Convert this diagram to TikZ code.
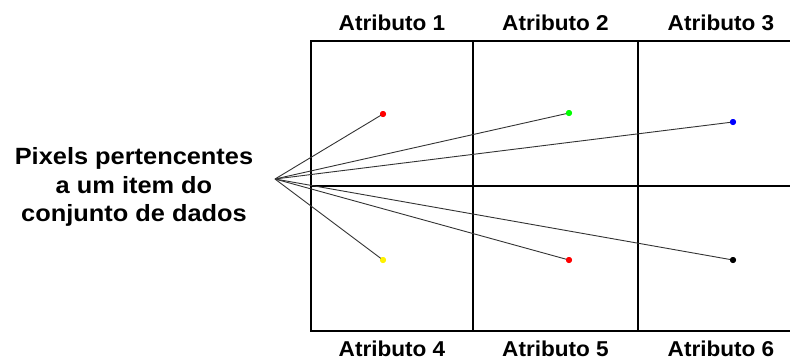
\documentclass[tikz,border=0pt]{standalone}
\usepackage{fontspec}
\usepackage{graphicx}
\setmainfont{Liberation Sans}
\begin{document}
\begin{tikzpicture}[x=1pt,y=-1pt,
  grid/.style={line width=2.6pt},
  fan/.style={line width=0.9pt, draw=black!80},
  dot/.style={circle, inner sep=0pt, minimum size=6pt, fill=#1},
  lbl/.style={font=\fontsize{21.5}{25}\selectfont\bfseries, inner sep=0pt, anchor=base},
  big/.style={font=\fontsize{23.5}{28.5}\selectfont\bfseries, inner sep=0pt, align=center}]
\useasboundingbox (0,0) rectangle (790,360);
% grid
\draw[grid] (800,41) -- (311,41) -- (311,331) -- (800,331);
\draw[grid] (311,186) -- (800,186);
\draw[grid] (473,41) -- (473,331);
\draw[grid] (638,41) -- (638,331);
% labels
\node[lbl] (a1) at (392,30) {\scalebox{1.05}[1]{Atributo 1}};
\node[lbl] (a2) at (555.5,30) {\scalebox{1.05}[1]{Atributo 2}};
\node[lbl] (a3) at (721,30) {\scalebox{1.05}[1]{Atributo 3}};
\node[lbl] (a4) at (392,356) {\scalebox{1.05}[1]{Atributo 4}};
\node[lbl] (a5) at (555.5,356) {\scalebox{1.05}[1]{Atributo 5}};
\node[lbl] (a6) at (721,356) {\scalebox{1.05}[1]{Atributo 6}};
\node[big] (txt) at (134,187) {\scalebox{1.08}[1]{Pixels pertencentes}\\\scalebox{1.08}[1]{a um item do}\\\scalebox{1.08}[1]{conjunto de dados}};
% fan
\coordinate (o) at (275,179);
\node[dot=red] (d1) at (383,114) {};
\node[dot=green] (d2) at (569,113) {};
\node[dot=blue] (d3) at (733,122) {};
\node[dot=yellow] (d4) at (383,260) {};
\node[dot=red] (d5) at (569,260) {};
\node[dot=black] (d6) at (733,260) {};
\foreach \d in {d1,d2,d3,d4,d5,d6} \draw[fan] (o) -- (\d.center);
\foreach \d/\c in {d1/red,d2/green,d3/blue,d4/yellow,d5/red,d6/black} \node[dot=\c] at (\d) {};
\end{tikzpicture}
\end{document}
